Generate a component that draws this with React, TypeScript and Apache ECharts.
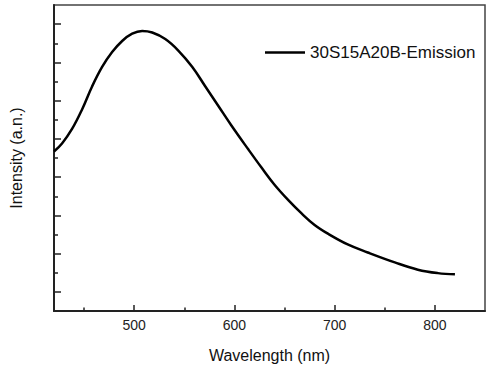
import React, { useEffect, useRef } from "react";
import * as echarts from "echarts";

const seriesName = "30S15A20B-Emission";
const wavelengths = [420, 428, 438, 448, 458, 468, 478, 488, 498, 508, 518, 531, 544, 558, 571, 584, 597, 614, 627, 640, 654, 667, 680, 694, 713, 733, 760, 783, 803, 820];
const intensity = [4.17, 4.38, 4.76, 5.27, 5.87, 6.38, 6.77, 7.06, 7.25, 7.32, 7.28, 7.11, 6.81, 6.38, 5.87, 5.36, 4.85, 4.22, 3.75, 3.3, 2.89, 2.55, 2.25, 2.01, 1.74, 1.53, 1.27, 1.08, 0.99, 0.96];
const xMajorTicks = [500, 600, 700, 800];
const xMinorTicks = [450, 550, 650, 750];
const yMajorTicks = [0.5, 1.5, 2.5, 3.5, 4.5, 5.5, 6.5, 7.5];
const yMinorTicks = [1, 2, 3, 4, 5, 6, 7];

const FONT = "'Liberation Sans', Arial, sans-serif";

export default function App() {
  const ref = useRef<HTMLDivElement>(null);
  useEffect(() => {
    if (!ref.current) return;
    const chart = echarts.init(ref.current, null, { renderer: "svg" });
    const data = wavelengths.map((w, i) => [w, intensity[i]]);
    chart.setOption({
      animation: false,
      backgroundColor: "#fff",
      textStyle: { fontFamily: FONT },
      grid: {
        left: 51,
        top: 5,
        right: 5,
        bottom: 50,
        show: true,
        borderColor: "#444",
        borderWidth: 1.5,
      },
      legend: {
        data: [{ name: seriesName, icon: "rect" }],
        left: 260,
        top: 39,
        itemWidth: 40,
        itemHeight: 2.5,
        itemGap: 4,
        itemStyle: { color: "#000" },
        textStyle: { fontFamily: FONT, fontSize: 17, color: "#111" },
      },
      xAxis: [
        {
          type: "value",
          min: 420,
          max: 850,
          name: "Wavelength (nm)",
          nameLocation: "middle",
          nameGap: 36,
          nameTextStyle: { fontFamily: FONT, fontSize: 16, color: "#111" },
          axisLine: { show: true, lineStyle: { color: "#222", width: 2 } },
          axisTick: { show: true, inside: true, length: 6, customValues: xMajorTicks, lineStyle: { color: "#222", width: 1.5 } },
          axisLabel: { show: true, customValues: xMajorTicks, fontFamily: FONT, fontSize: 14, color: "#222", margin: 7 },
          splitLine: { show: false },
        },
        {
          type: "value",
          min: 420,
          max: 850,
          position: "bottom",
          axisLine: { show: false },
          axisTick: { show: true, inside: true, length: 3.5, customValues: xMinorTicks, lineStyle: { color: "#222", width: 1.5 } },
          axisLabel: { show: false },
          splitLine: { show: false },
        },
      ],
      yAxis: [
        {
          type: "value",
          min: 0,
          max: 8,
          name: "Intensity (a.n.)",
          nameLocation: "middle",
          nameGap: 30,
          nameTextStyle: { fontFamily: FONT, fontSize: 16, color: "#111" },
          axisLine: { show: true, lineStyle: { color: "#222", width: 2 } },
          axisTick: { show: true, inside: true, length: 7, customValues: yMajorTicks, lineStyle: { color: "#222", width: 1.5 } },
          axisLabel: { show: false },
          splitLine: { show: false },
        },
        {
          type: "value",
          min: 0,
          max: 8,
          position: "left",
          axisLine: { show: false },
          axisTick: { show: true, inside: true, length: 4, customValues: yMinorTicks, lineStyle: { color: "#222", width: 1.5 } },
          axisLabel: { show: false },
          splitLine: { show: false },
        },
      ],
      series: [
        {
          name: seriesName,
          type: "line",
          xAxisIndex: 0,
          yAxisIndex: 0,
          data,
          smooth: 0.4,
          symbol: "none",
          lineStyle: { color: "#000", width: 2.5 },
          itemStyle: { color: "#000" },
        },
      ],
    });
    return () => chart.dispose();
  }, []);
  return <div ref={ref} style={{ position: "fixed", left: 0, top: 0, width: 490, height: 368 }} />;
}
